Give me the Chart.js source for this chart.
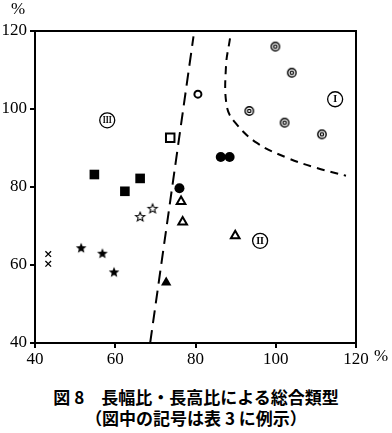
<!DOCTYPE html>
<html>
<head>
<meta charset="utf-8">
<script src="https://cdn.jsdelivr.net/npm/chart.js@4.4.0/dist/chart.umd.min.js"></script>
<style>
body{margin:0;background:#fff;}
#wrap{position:relative;width:392px;height:433px;}
#cap{position:absolute;left:0;top:386px;width:392px;text-align:center;font-family:"Noto Sans CJK JP";font-weight:bold;font-size:17px;line-height:21px;color:#000;}
</style>
</head>
<body>
<div id="wrap">
<canvas id="myChart" width="392" height="380"></canvas>
<div id="cap">図 8　長幅比・長高比による総合類型<br>（図中の記号は表 3 に例示）</div>
</div>
<script>
var xTicks = [40, 60, 80, 100, 120];
var yTicks = [40, 60, 80, 100, 120];

var doubleCircleX = [99.9, 104.0, 93.4, 102.2, 111.5];
var doubleCircleY = [116.0, 109.3, 99.5, 96.5, 93.5];
var openCircleX = [80.6];
var openCircleY = [103.8];
var openSquareX = [73.7];
var openSquareY = [92.6];
var blackCircleX = [86.3, 88.5, 76.0];
var blackCircleY = [87.7, 87.7, 79.7];
var blackSquareX = [54.8, 62.4, 66.2];
var blackSquareY = [83.2, 78.9, 82.2];
var openTriangleX = [76.4, 76.8, 89.9];
var openTriangleY = [76.3, 71.0, 67.5];
var openStarX = [66.2, 69.3];
var openStarY = [72.3, 74.4];
var blackStarX = [51.5, 56.8, 59.7];
var blackStarY = [64.3, 62.9, 58.1];
var blackTriangleX = [72.7];
var blackTriangleY = [55.5];
var crossX = [43.3, 43.3];
var crossY = [62.8, 60.3];

// dashed boundaries between the groups
var border1X = [68.7, 79.5];
var border1Y = [40, 118.6];
var border2X = [88.6, 87.6, 87.8, 89.9, 95.3, 102.8, 110.2, 117.5];
var border2Y = [118.1, 111.0, 100.7, 96.5, 91.3, 87.5, 84.9, 82.9];

var groupNames = ["I", "II", "III"];
var groupX = [114.8, 96.1, 58.0];
var groupY = [102.5, 66.2, 97.1];

function pts(xs, ys) {
  return xs.map(function (x, i) { return {x: x, y: ys[i]}; });
}

function marker(size, draw) {
  var c = document.createElement("canvas");
  c.width = size;
  c.height = size;
  var ctx = c.getContext("2d");
  draw(ctx, size / 2);
  return c;
}

function starPath(ctx, c, ro, ri) {
  ctx.beginPath();
  for (var i = 0; i < 10; i++) {
    var r = i % 2 == 0 ? ro : ri;
    var a = -Math.PI / 2 + i * Math.PI / 5;
    ctx.lineTo(c + r * Math.cos(a), c + r * Math.sin(a));
  }
  ctx.closePath();
}

var blackStar = marker(14, function (ctx, c) {
  starPath(ctx, c, 5.6, 2.4);
  ctx.fillStyle = "#000";
  ctx.fill();
});
var openStar = marker(14, function (ctx, c) {
  starPath(ctx, c, 4.8, 2.1);
  ctx.fillStyle = "#fff";
  ctx.fill();
  ctx.lineWidth = 1.1;
  ctx.strokeStyle = "#000";
  ctx.stroke();
});
var doubleCircle = marker(12, function (ctx, c) {
  ctx.fillStyle = "#fff";
  ctx.beginPath();
  ctx.arc(c, c, 4.8, 0, Math.PI * 2);
  ctx.fill();
  ctx.strokeStyle = "#000";
  ctx.lineWidth = 1.4;
  ctx.beginPath();
  ctx.arc(c, c, 4.2, 0, Math.PI * 2);
  ctx.stroke();
  ctx.lineWidth = 1.2;
  ctx.beginPath();
  ctx.arc(c, c, 1.7, 0, Math.PI * 2);
  ctx.stroke();
});

var framePlugin = {
  id: "frame",
  afterDraw: function (chart) {
    var ctx = chart.ctx;
    var a = chart.chartArea;
    ctx.save();
    ctx.strokeStyle = "#000";
    ctx.lineWidth = 2;
    ctx.beginPath();
    ctx.moveTo(a.left, a.top);
    ctx.lineTo(a.right, a.top);
    ctx.lineTo(a.right, a.bottom);
    ctx.stroke();

    // group labels in circles
    var sx = chart.scales.x, sy = chart.scales.y;
    for (var i = 0; i < groupNames.length; i++) {
      var px = sx.getPixelForValue(groupX[i]);
      var py = sy.getPixelForValue(groupY[i]);
      ctx.lineWidth = 1.3;
      ctx.beginPath();
      ctx.arc(px, py, 7.5, 0, Math.PI * 2);
      ctx.stroke();
      ctx.font = "bold 10px 'Liberation Serif'";
      ctx.fillStyle = "#000";
      ctx.textAlign = "center";
      ctx.textBaseline = "middle";
      var w = ctx.measureText(groupNames[i]).width;
      ctx.save();
      ctx.translate(px, py + 0.5);
      if (w > 9) ctx.scale(9 / w, 1);
      ctx.fillText(groupNames[i], 0, 0);
      ctx.restore();
    }

    // percent signs
    ctx.font = "17px 'Liberation Serif'";
    ctx.textAlign = "center";
    ctx.textBaseline = "middle";
    ctx.fillText("%", a.left - 17, a.top - 21);
    ctx.fillText("%", a.right + 25, a.bottom + 14);
    ctx.restore();
  }
};

var tickFont = {family: "Liberation Serif", size: 17};

new Chart("myChart", {
  type: "scatter",
  data: {
    datasets: [
      {data: pts(border1X, border1Y), showLine: true, borderColor: "#000", borderWidth: 2,
       borderDash: [13, 7], pointRadius: 0, tension: 0},
      {data: pts(border2X, border2Y), showLine: true, borderColor: "#000", borderWidth: 2,
       borderDash: [8, 6], pointRadius: 0, tension: 0.4},
      {data: pts(doubleCircleX, doubleCircleY), pointStyle: doubleCircle},
      {data: pts(openCircleX, openCircleY), pointStyle: "circle", pointRadius: 3.5,
       backgroundColor: "#fff", borderColor: "#000", borderWidth: 2},
      {data: pts(openSquareX, openSquareY), pointStyle: "rect", pointRadius: 6,
       backgroundColor: "#fff", borderColor: "#000", borderWidth: 2},
      {data: pts(blackCircleX, blackCircleY), pointStyle: "circle", pointRadius: 5,
       backgroundColor: "#000", borderColor: "#000", borderWidth: 0},
      {data: pts(blackSquareX, blackSquareY), pointStyle: "rect", pointRadius: 6.8,
       backgroundColor: "#000", borderColor: "#000", borderWidth: 0},
      {data: pts(openTriangleX, openTriangleY), pointStyle: "triangle", pointRadius: 5,
       backgroundColor: "#fff", borderColor: "#000", borderWidth: 2},
      {data: pts(openStarX, openStarY), pointStyle: openStar},
      {data: pts(blackStarX, blackStarY), pointStyle: blackStar},
      {data: pts(blackTriangleX, blackTriangleY), pointStyle: "triangle", pointRadius: 6,
       backgroundColor: "#000", borderColor: "#000", borderWidth: 0},
      {data: pts(crossX, crossY), pointStyle: "crossRot", pointRadius: 4,
       borderColor: "#000", borderWidth: 1.3}
    ]
  },
  options: {
    responsive: false,
    animation: false,
    devicePixelRatio: 1,
    layout: {padding: {top: 31, right: 36, left: 0, bottom: 0}},
    plugins: {legend: {display: false}, tooltip: {enabled: false}},
    scales: {
      x: {
        type: "linear", min: 40, max: 120,
        afterBuildTicks: function (s) { s.ticks = xTicks.map(function (v) { return {value: v}; }); },
        afterFit: function (s) { s.height = 37; },
        grid: {drawOnChartArea: false, drawTicks: true, tickLength: 5, color: "#000", lineWidth: 2},
        border: {color: "#000", width: 2},
        ticks: {color: "#000", font: tickFont, padding: 1, maxRotation: 0}
      },
      y: {
        type: "linear", min: 40, max: 120,
        afterBuildTicks: function (s) { s.ticks = yTicks.map(function (v) { return {value: v}; }); },
        afterFit: function (s) { s.width = 35; },
        grid: {drawOnChartArea: false, drawTicks: true, tickLength: 5, color: "#000", lineWidth: 2},
        border: {color: "#000", width: 2},
        ticks: {color: "#000", font: tickFont, padding: 3}
      }
    }
  },
  plugins: [framePlugin]
});
</script>
</body>
</html>
